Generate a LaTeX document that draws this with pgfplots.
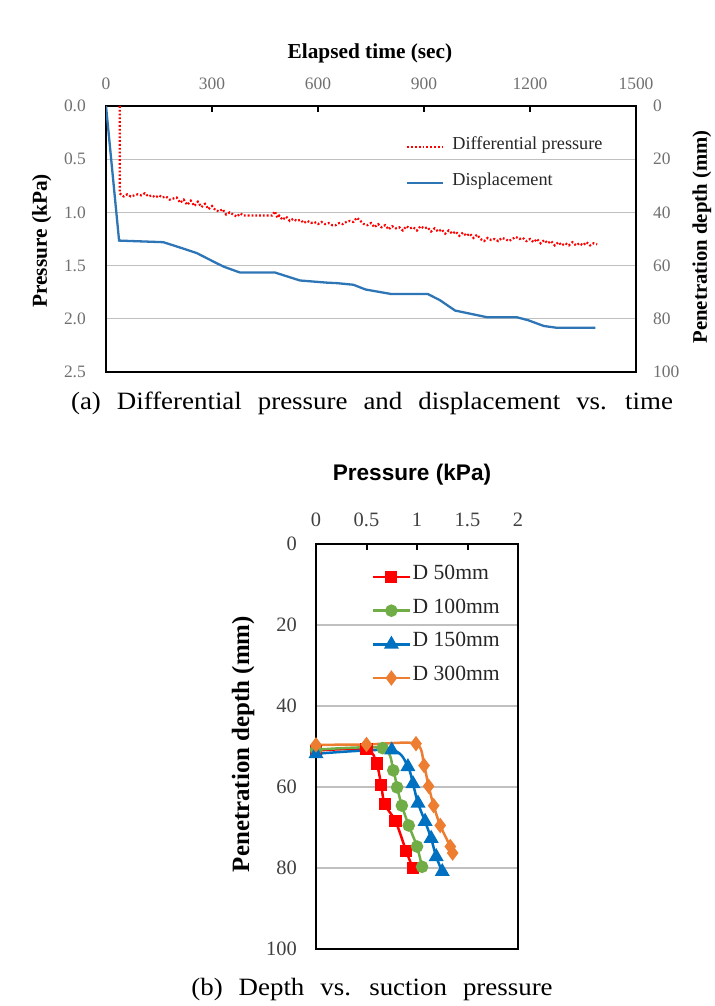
\documentclass[border=0pt]{standalone}
\usepackage{pgfplots}
\pgfplotsset{compat=1.18}
\usepackage{fontspec}
\setmainfont{Liberation Serif}
\newfontfamily\sansfont{Liberation Sans}
\newfontfamily\capfont[FakeStretch=1.08]{Liberation Serif}
\definecolor{dpred}{HTML}{FF0000}
\definecolor{dispblue}{HTML}{2E75B6}
\definecolor{gridgray}{HTML}{C0C0C0}
\definecolor{sred}{HTML}{FF0000}
\definecolor{sgreen}{HTML}{70AD47}
\definecolor{sblue}{HTML}{0070C0}
\definecolor{sorange}{HTML}{ED7D31}
\definecolor{ticktop}{HTML}{707070}
\definecolor{tickbot}{HTML}{404040}

\pgfplotsset{
  legend image code/.code={\draw[mark repeat=2,mark phase=2,#1] plot coordinates {(0bp,0bp) (18bp,0bp) (36bp,0bp)};},
}

\pgfplotstableread{
t p
39 0
39 0.82
45 0.84
50 0.85
60 0.83
70 0.85
80 0.84
90 0.83
100 0.84
110 0.82
120 0.85
130 0.84
140 0.86
150 0.84
160 0.86
170 0.85
180 0.88
190 0.87
200 0.86
210 0.91
220 0.88
230 0.93
240 0.89
250 0.94
260 0.90
270 0.95
280 0.92
290 0.97
300 0.94
310 0.98
320 0.99
330 0.97
340 1.02
350 1.00
360 1.02
370 1.04
380 1.01
390 1.03
470 1.03
478 0.99
485 1.05
490 1.03
500 1.07
510 1.04
520 1.08
530 1.06
540 1.08
550 1.07
560 1.10
570 1.08
580 1.10
590 1.09
600 1.11
610 1.09
620 1.11
630 1.10
640 1.12
650 1.12
660 1.10
670 1.11
680 1.09
690 1.08
700 1.09
710 1.05
720 1.08
730 1.11
740 1.12
750 1.10
760 1.14
770 1.11
780 1.14
790 1.12
800 1.16
810 1.13
820 1.15
830 1.14
840 1.17
850 1.13
860 1.15
870 1.14
880 1.17
890 1.13
900 1.15
910 1.14
920 1.18
930 1.15
940 1.18
950 1.16
960 1.20
970 1.17
980 1.20
990 1.18
1000 1.22
1010 1.19
1020 1.22
1030 1.20
1040 1.24
1050 1.21
1060 1.25
1070 1.27
1080 1.24
1090 1.26
1100 1.25
1110 1.27
1120 1.24
1130 1.25
1140 1.27
1150 1.25
1160 1.23
1170 1.25
1180 1.24
1190 1.27
1200 1.25
1210 1.28
1220 1.25
1230 1.29
1240 1.26
1250 1.29
1260 1.27
1270 1.31
1280 1.28
1290 1.31
1300 1.29
1310 1.31
1320 1.28
1330 1.31
1340 1.29
1350 1.31
1360 1.28
1370 1.31
1380 1.29
1390 1.30
}\diffp

\pgfplotstableread{
t d
0 0
37 50.6
162 51.2
200 52.8
257 55.3
313 59.1
335 60.5
379 62.6
478 62.6
549 65.6
624 66.4
654 66.6
700 67.2
735 69.0
808 70.7
911 70.7
945 73.0
988 76.9
1078 79.4
1162 79.4
1194 80.5
1239 82.7
1277 83.4
1385 83.4
}\disp

\pgfplotstableread{
p d
0 51.0
0.50 50.7
0.60 54.2
0.645 59.5
0.68 64.3
0.787 68.4
0.894 75.9
0.96 80.1
}\dA

\pgfplotstableread{
p d
0 50.8
0.66 50.4
0.765 55.9
0.803 60.1
0.85 64.6
0.918 69.5
1.0 74.7
1.05 79.7
}\dB

\pgfplotstableread{
p d
0 51.8
0.75 50.9
0.91 55.0
0.96 59.2
1.01 64.0
1.08 68.5
1.14 72.7
1.19 77.2
1.25 80.9
}\dC

\pgfplotstableread{
p d
0 49.6
0.50 49.5
0.99 49.3
1.07 54.7
1.115 59.8
1.165 64.6
1.23 69.5
1.33 74.7
1.353 76.3
}\dD

\begin{document}
\begin{tikzpicture}
\useasboundingbox (0,0) rectangle (715bp,1006bp);

% ---------- (a) left axis: pressure ----------
\begin{axis}[
  at={(106bp,634bp)}, anchor=south west,
  scale only axis, width=530bp, height=266bp,
  xmin=0, xmax=1500, ymin=0, ymax=2.5, y dir=reverse,
  xtick={0,300,...,1500}, ytick={0,0.5,...,2.5},
  xtick pos=right, xticklabel pos=right,
  tick align=inside, major tick length=6bp,
  ytick style={draw=none},
  xtick style={line width=2bp, black},
  ymajorgrids, grid style={gridgray, line width=1.3bp},
  axis line style={line width=2.5bp, black},
  /pgf/number format/assume math mode=true,
  /pgf/number format/1000 sep={},
  yticklabel={\pgfmathprintnumber[fixed,fixed zerofill,precision=1]{\tick}},
  ticklabel style={font=\fontsize{17.5}{20}\selectfont, text=ticktop, inner sep=0pt},
  yticklabel style={anchor=east, xshift=-20bp},
  xticklabel style={anchor=south, yshift=16bp},
  xlabel={\textbf{Elapsed time (sec)}},
  xlabel style={at={(axis description cs:0.498,1.199)}, anchor=center, font=\fontsize{21.4}{24}\selectfont},
  ylabel={\textbf{Pressure (kPa)}},
  ylabel style={at={(axis description cs:-0.121,0.4925)}, anchor=center, rotate=0, font=\fontsize{21.4}{24}\selectfont},
]
\addplot[color=dpred, line width=2.2bp, dash pattern=on 1.8bp off 2bp] table[x=t,y=p] {\diffp};
\end{axis}

% ---------- (a) right axis: penetration depth ----------
\begin{axis}[
  at={(106bp,634bp)}, anchor=south west,
  scale only axis, width=530bp, height=266bp,
  xmin=0, xmax=1500, ymin=0, ymax=100, y dir=reverse,
  hide x axis, axis y line*=right,
  ytick={0,20,...,100},
  ytick style={draw=none},
  axis line style={line width=2.5bp, black},
  /pgf/number format/assume math mode=true,
  ticklabel style={font=\fontsize{17.5}{20}\selectfont, text=ticktop, inner sep=0pt},
  yticklabel style={anchor=west, xshift=17bp},
  ylabel={\textbf{Penetration depth (mm)}},
  ylabel style={at={(axis description cs:1.1245,0.5075)}, anchor=center, rotate=0, font=\fontsize{20.8}{24}\selectfont},
  legend style={at={(axis description cs:0.566,0.872)}, anchor=north west, draw=none, fill=none,
    inner sep=0pt, row sep=23.5bp, /tikz/column sep=6bp,
    font=\fontsize{18.3}{21}\selectfont, text=black!85,
    nodes={inner sep=2bp, text height=0.7em, text depth=0.2em}},
  legend cell align=left,
]
\addlegendimage{color=dpred, line width=2.2bp, dash pattern=on 1.8bp off 2bp}
\addlegendentry{Differential pressure}
\addplot[color=dispblue, line width=2.3bp] table[x=t,y=d] {\disp};
\addlegendentry{Displacement}
\end{axis}

\node[anchor=base, font=\capfont\fontsize{25}{28}\selectfont] at (372bp,596bp)
  {\spaceskip=16bp\relax (a) Differential pressure and displacement vs. time};

% ---------- (b) depth vs suction pressure ----------
\begin{axis}[
  at={(316bp,57bp)}, anchor=south west,
  scale only axis, width=202bp, height=405bp,
  xmin=0, xmax=2, ymin=0, ymax=100, y dir=reverse,
  xtick={0,0.5,...,2}, ytick={0,20,...,100},
  xtick pos=right, xticklabel pos=right,
  tick align=inside, major tick length=6bp,
  ytick style={draw=none},
  xtick style={line width=2bp, black},
  ymajorgrids, grid style={gridgray, line width=1.3bp},
  axis line style={line width=2.5bp, black},
  /pgf/number format/assume math mode=true,
  ticklabel style={font=\fontsize{20.5}{23}\selectfont, text=tickbot, inner sep=0pt},
  yticklabel style={anchor=east, xshift=-19bp},
  xticklabel style={anchor=south, yshift=17bp},
  xlabel={\sansfont\bfseries Pressure (kPa)},
  xlabel style={at={(axis description cs:0.475,1.170)}, anchor=center, font=\fontsize{22.7}{26}\selectfont},
  ylabel={\textbf{Penetration depth (mm)}},
  ylabel style={at={(axis description cs:-0.361,0.506)}, anchor=center, rotate=0, font=\fontsize{25}{28}\selectfont},
  legend style={at={(axis description cs:0.277,0.935)}, anchor=north west, draw=none, fill=none,
    inner sep=0pt, row sep=20.7bp, /tikz/column sep=0bp,
    font=\fontsize{21.7}{25}\selectfont, text=black!85,
    nodes={inner sep=2bp, text height=0.7em, text depth=0.2em}},
  legend cell align=left,
]
\addplot[color=sred, line width=2.5bp, smooth, tension=0.45, mark=square*, mark size=4.8bp, mark options={solid}] table[x=p,y=d] {\dA};
\addlegendentry{D 50mm}
\addplot[color=sgreen, line width=2.5bp, smooth, tension=0.45, mark=*, mark size=5bp, mark options={solid}] table[x=p,y=d] {\dB};
\addlegendentry{D 100mm}
\addplot[color=sblue, line width=2.5bp, smooth, tension=0.45, mark=triangle*, mark size=6.2bp, mark options={solid}] table[x=p,y=d] {\dC};
\addlegendentry{D 150mm}
\addplot[color=sorange, line width=2.5bp, smooth, tension=0.45, mark=diamond*, mark size=5.7bp, mark options={solid}] table[x=p,y=d] {\dD};
\addlegendentry{D 300mm}
\end{axis}

\node[anchor=base, font=\capfont\fontsize{25}{28}\selectfont] at (372bp,11bp)
  {\spaceskip=16bp\relax (b) Depth vs. suction pressure};

\end{tikzpicture}
\end{document}
